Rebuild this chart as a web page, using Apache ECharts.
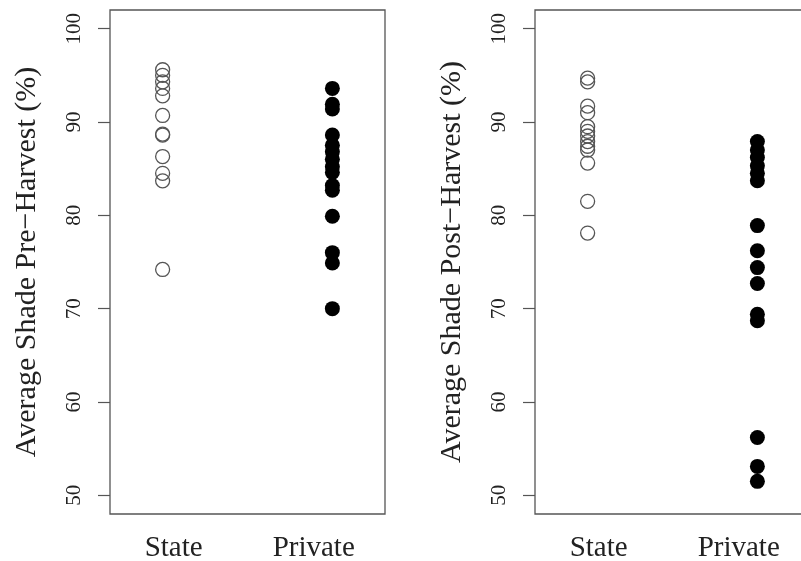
<!DOCTYPE html>
<html>
<head>
<meta charset="utf-8">
<script src="https://cdn.jsdelivr.net/npm/echarts@6/dist/echarts.min.js"></script>
<style>html,body{margin:0;padding:0;background:#fff}#c{width:801px;height:561px}</style>
</head>
<body>
<div id="c"></div>
<script>
// ---- data ----
var groups = ['State', 'Private'];
var yTicks = [50, 60, 70, 80, 90, 100];
var preState   = [95.6, 95.0, 94.3, 93.6, 92.8, 90.7, 88.7, 88.6, 86.3, 84.5, 83.7, 74.2];
var prePrivate = [93.6, 91.9, 91.4, 88.6, 87.5, 86.8, 86.0, 85.2, 84.6, 83.2, 82.7, 79.9, 76.0, 74.9, 70.0];
var postState   = [94.7, 94.3, 91.7, 91.0, 89.5, 89.0, 88.5, 87.9, 87.4, 87.0, 85.6, 81.5, 78.1];
var postPrivate = [87.9, 87.0, 86.2, 85.3, 84.5, 83.7, 78.9, 76.2, 74.4, 72.7, 69.4, 68.7, 56.2, 53.1, 51.5];
var titles = ['Average Shade Pre\u2212Harvest (%)', 'Average Shade Post\u2212Harvest (%)'];

// ---- layout ----
var groupX = [1, 2];          // point positions
var labelX = [1.065, 1.89];   // text label positions
var FONT = '"Liberation Serif", "DejaVu Serif", serif';
var TXT = '#222';
var LINE = '#555';

function pts(vals, gi) { return vals.map(function (v) { return [groupX[gi], v]; }); }

function xAxisFor(idx) {
  return {
    gridIndex: idx, type: 'value', min: 0.69, max: 2.31,
    axisLine: { show: false }, axisTick: { show: false }, splitLine: { show: false },
    axisLabel: {
      customValues: labelX, margin: 20, color: TXT, fontFamily: FONT, fontSize: 29,
      formatter: function (v) { return Math.abs(v - labelX[0]) < 0.01 ? groups[0] : groups[1]; }
    }
  };
}
function yAxisFor(idx) {
  return {
    gridIndex: idx, type: 'value', min: 48, max: 102,
    name: titles[idx], nameLocation: 'middle', nameGap: 68,
    nameTextStyle: { color: TXT, fontFamily: FONT, fontSize: 30 },
    axisLine: { show: false }, splitLine: { show: false },
    axisTick: { show: true, customValues: yTicks, length: 12, lineStyle: { color: LINE, width: 1.2 } },
    axisLabel: { customValues: yTicks, rotate: 90, margin: 25, color: TXT, fontFamily: FONT, fontSize: 21 }
  };
}
var openStyle = { color: 'rgba(0,0,0,0)', borderColor: '#555', borderWidth: 1.3, opacity: 1 };
var fillStyle = { color: '#000', opacity: 1 };

var option = {
  animation: false,
  backgroundColor: '#fff',
  grid: [
    { left: 110, top: 10, width: 275, height: 504, show: true, borderColor: LINE, borderWidth: 1.3, backgroundColor: 'transparent', outerBoundsMode: 'none', containLabel: false },
    { left: 535, top: 10, width: 275, height: 504, show: true, borderColor: LINE, borderWidth: 1.3, backgroundColor: 'transparent', outerBoundsMode: 'none', containLabel: false }
  ],
  xAxis: [xAxisFor(0), xAxisFor(1)],
  yAxis: [yAxisFor(0), yAxisFor(1)],
  series: [
    { type: 'scatter', xAxisIndex: 0, yAxisIndex: 0, symbolSize: 14, itemStyle: openStyle, data: pts(preState, 0) },
    { type: 'scatter', xAxisIndex: 0, yAxisIndex: 0, symbolSize: 15, itemStyle: fillStyle, data: pts(prePrivate, 1) },
    { type: 'scatter', xAxisIndex: 1, yAxisIndex: 1, symbolSize: 14, itemStyle: openStyle, data: pts(postState, 0) },
    { type: 'scatter', xAxisIndex: 1, yAxisIndex: 1, symbolSize: 15, itemStyle: fillStyle, data: pts(postPrivate, 1) }
  ]
};
var chart = echarts.init(document.getElementById('c'), null, { renderer: 'canvas' });
chart.setOption(option);
</script>
</body>
</html>
